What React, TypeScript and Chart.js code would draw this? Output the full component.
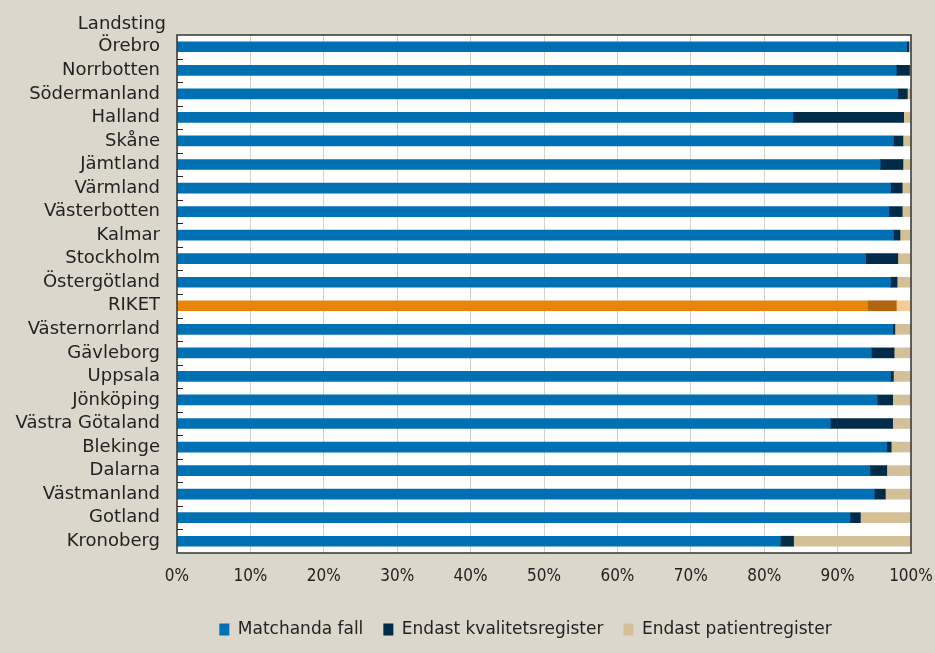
import React, { useEffect, useRef } from "react";
import { Chart, registerables } from "chart.js";

Chart.register(...registerables);

const categories = [
  "Örebro", "Norrbotten", "Södermanland", "Halland", "Skåne", "Jämtland", "Värmland",
  "Västerbotten", "Kalmar", "Stockholm", "Östergötland", "RIKET", "Västernorrland",
  "Gävleborg", "Uppsala", "Jönköping", "Västra Götaland", "Blekinge", "Dalarna",
  "Västmanland", "Gotland", "Kronoberg",
];
const matchedCases = [99.4, 98.0, 98.2, 83.9, 97.6, 95.8, 97.2, 97.0, 97.6, 93.8, 97.2, 94.1, 97.5, 94.6, 97.2, 95.4, 89.0, 96.7, 94.4, 95.0, 91.7, 82.2];
const onlyQualityRegister = [0.3, 1.8, 1.3, 15.1, 1.3, 3.1, 1.6, 1.8, 0.9, 4.4, 0.9, 3.9, 0.3, 3.1, 0.4, 2.1, 8.5, 0.6, 2.3, 1.5, 1.4, 1.8];
const onlyPatientRegister = [0.3, 0.2, 0.5, 1.0, 1.1, 1.1, 1.2, 1.2, 1.5, 1.8, 1.9, 2.0, 2.2, 2.3, 2.4, 2.5, 2.5, 2.7, 3.3, 3.5, 6.9, 16.0];
const seriesLabels = ["Matchanda fall", "Endast kvalitetsregister", "Endast patientregister"];
const xTicks = [0, 10, 20, 30, 40, 50, 60, 70, 80, 90, 100];
const axisTitle = "Landsting";
const highlight = "RIKET";

const FONT = "'DejaVu Sans', sans-serif";
const FONT_COND = "'DejaVu Sans Condensed', 'DejaVu Sans', sans-serif";
const TEXT = "#222222";

export default function App() {
  const ref = useRef<HTMLCanvasElement | null>(null);

  useEffect(() => {
    if (!ref.current) return;
    const hiIdx = categories.indexOf(highlight);
    const pick = (normal: string, hi: string) => (ctx: any) =>
      ctx.dataIndex === hiIdx ? hi : normal;

    const framePlugin = {
      id: "frame",
      afterLayout(chart: any) {
        const lg = chart.legend;
        if (lg) {
          lg.left += 70;
          lg.right += 70;
        }
      },
      beforeDraw(chart: any) {
        const { ctx, chartArea: a } = chart;
        ctx.save();
        ctx.fillStyle = "#ffffff";
        ctx.fillRect(a.left, a.top, a.right - a.left, a.bottom - a.top);
        ctx.restore();
      },
      afterDraw(chart: any) {
        const { ctx, chartArea: a } = chart;
        const ys = chart.scales.y;
        ctx.save();
        ctx.strokeStyle = "#333333";
        ctx.lineWidth = 1.5;
        ctx.strokeRect(a.left, a.top, a.right - a.left, a.bottom - a.top);
        ctx.lineWidth = 1;
        ctx.strokeStyle = "#222222";
        for (let i = 0; i < categories.length - 1; i++) {
          const y = Math.round((ys.getPixelForValue(i) + ys.getPixelForValue(i + 1)) / 2) + 0.5;
          ctx.beginPath();
          ctx.moveTo(a.left, y);
          ctx.lineTo(a.left + 6, y);
          ctx.stroke();
        }
        ctx.fillStyle = TEXT;
        ctx.font = `18px ${FONT}`;
        ctx.textAlign = "right";
        ctx.textBaseline = "alphabetic";
        ctx.fillText(axisTitle, a.left - 11, a.top - 6);
        ctx.restore();
      },
    };

    const chart = new Chart(ref.current, {
      type: "bar",
      data: {
        labels: categories,
        datasets: [
          {
            label: seriesLabels[0],
            data: matchedCases,
            backgroundColor: pick("#0070b4", "#e8850a"),
            borderWidth: 0,
          },
          {
            label: seriesLabels[1],
            data: onlyQualityRegister,
            backgroundColor: pick("#002b49", "#b3630e"),
            borderWidth: 0,
          },
          {
            label: seriesLabels[2],
            data: onlyPatientRegister,
            backgroundColor: pick("#d3c096", "#f5cc98"),
            borderWidth: 0,
          },
        ],
      },
      plugins: [framePlugin],
      options: {
        indexAxis: "y",
        responsive: false,
        animation: false,
        layout: { padding: { top: 35, right: 24, bottom: 5, left: 0 } },
        datasets: { bar: { barThickness: 10 } },
        scales: {
          x: {
            stacked: true,
            min: 0,
            max: 100,
            afterBuildTicks: (scale: any) => {
              scale.ticks = xTicks.map((v) => ({ value: v }));
            },
            afterFit: (scale: any) => {
              scale.height = 48;
              scale.paddingLeft = 0;
              scale.paddingRight = 0;
            },
            grid: { color: "#d6d3c6", lineWidth: 1, drawTicks: false },
            border: { display: false },
            ticks: {
              callback: (v: any) => `${v}%`,
              color: TEXT,
              font: { family: FONT_COND, size: 17 },
              padding: 13,
              maxRotation: 0,
            },
          },
          y: {
            stacked: true,
            afterFit: (scale: any) => {
              scale.width = 177;
            },
            grid: { display: false, drawTicks: false },
            border: { display: false },
            ticks: {
              color: TEXT,
              font: { family: FONT, size: 18 },
              padding: 17,
              autoSkip: false,
            },
          },
        },
        plugins: {
          tooltip: { enabled: false },
          legend: {
            position: "bottom",
            labels: {
              boxWidth: 10,
              boxHeight: 12,
              color: TEXT,
              font: { family: FONT, size: 17 },
              padding: 20,
            },
          },
        },
      },
    } as any);
    return () => chart.destroy();
  }, []);

  return (
    <div
      style={{
        position: "absolute",
        left: 0,
        top: 0,
        width: 935,
        height: 653,
        background: "#dbd8cb",
      }}
    >
      <canvas ref={ref} width={935} height={653} />
    </div>
  );
}
